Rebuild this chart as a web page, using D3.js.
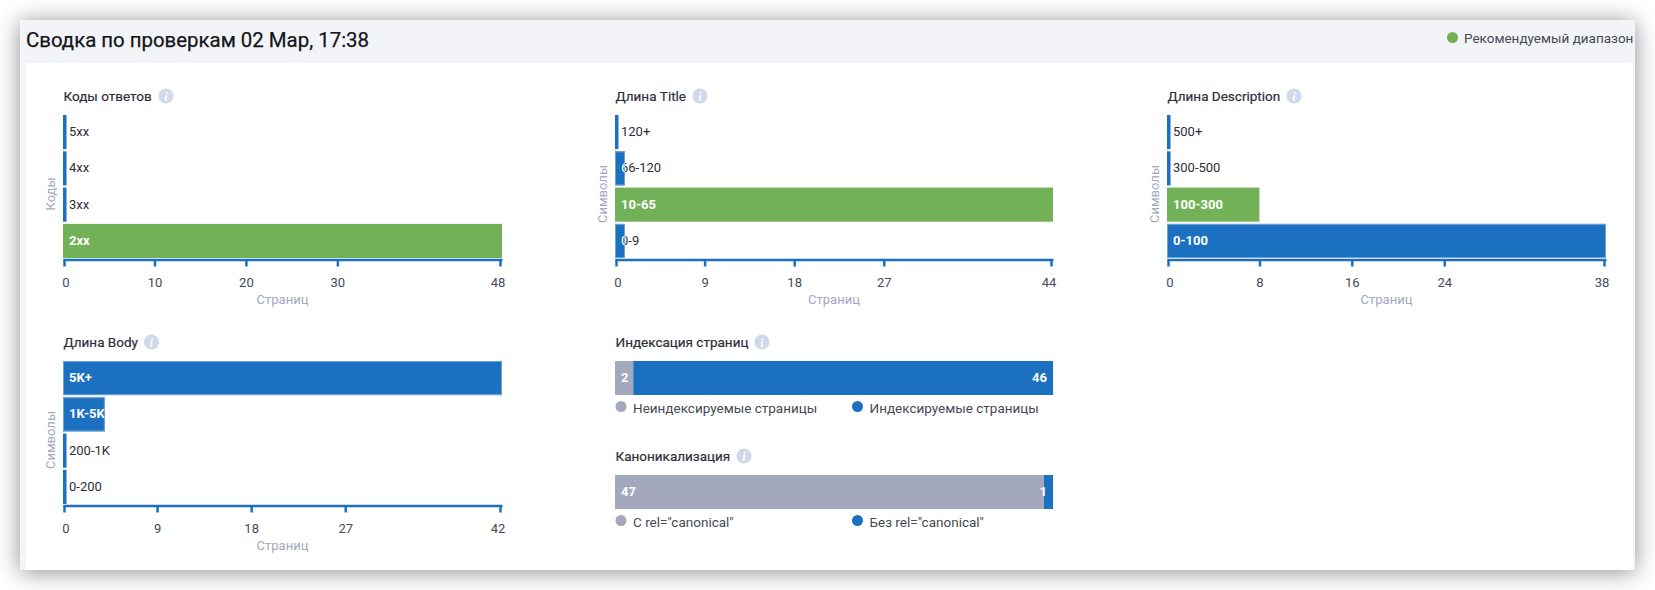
<!DOCTYPE html>
<html>
<head>
    <meta charset="utf-8">
    <script src="https://cdnjs.cloudflare.com/ajax/libs/d3/7.8.5/d3.min.js" charset="utf-8"></script>
    <style>
        html, body {
            margin: 0px;
            padding: 0px;
            background: #fff;
            overflow: hidden;
        }
        svg {
            display: block;
        }
        text {
            font-family: Roboto, sans-serif;
        }
        .panel {
            position: absolute;
            left: 20px;
            top: 20px;
            width: 1615px;
            height: 550px;
            background: #f3f4f8;
            box-shadow: 0 2px 22px rgba(0, 0, 0, .45);
        }
        .sheet {
            position: absolute;
            left: 26px;
            top: 63px;
            width: 1607px;
            height: 507px;
            background: #fff;
            border-radius: 3px 3px 0 0;
        }
        #chart {
            position: absolute;
            left: 0;
            top: 0;
        }
        .axis .domain, .axis line {
            stroke: #1b71bf;
            stroke-width: 2.5px;
        }
        .axis text {
            font-size: 13px;
            fill: #454a54;
        }
    </style>
</head>
<body>
  <div class="panel"></div>
  <div class="sheet"></div>
  <svg id="chart" width="1655" height="590"></svg>
  <script>
  var BLUE = '#1b71bf', GREEN = '#72b157', GREY = '#a3a8bd';

  var pageTitle = 'Сводка по проверкам 02 Мар, 17:38';
  var rangeLegend = 'Рекомендуемый диапазон';

  // horizontal bar charts
  var codeCats = ['5xx', '4xx', '3xx', '2xx'];
  var codeVals = [0, 0, 0, 48];
  var codeTicks = [0, 10, 20, 30, 48];

  var titleCats = ['120+', '66-120', '10-65', '0-9'];
  var titleVals = [0, 1, 44, 1];
  var titleTicks = [0, 9, 18, 27, 44];

  var descCats = ['500+', '300-500', '100-300', '0-100'];
  var descVals = [0, 0, 8, 38];
  var descTicks = [0, 8, 16, 24, 38];

  var bodyCats = ['5K+', '1K-5K', '200-1K', '0-200'];
  var bodyVals = [42, 4, 0, 0];
  var bodyTicks = [0, 9, 18, 27, 42];

  // stacked single bars
  var indexNames = ['Неиндексируемые страницы', 'Индексируемые страницы'];
  var indexVals = [2, 46];
  var canonNames = ['С rel="canonical"', 'Без rel="canonical"'];
  var canonVals = [47, 1];

  var svg = d3.select('#chart');
  var clipId = 0;

  svg.append('text').attr('x', 26).attr('y', 47)
     .style('font-size', '20.4px').style('fill', '#14161a')
     .style('stroke', '#14161a').style('stroke-width', 0.25).text(pageTitle);
  svg.append('circle').attr('cx', 1452.5).attr('cy', 37.5).attr('r', 5.5).attr('fill', GREEN);
  svg.append('text').attr('x', 1464).attr('y', 43)
     .style('font-size', '13.5px').style('fill', '#454a54').text(rangeLegend);

  function heading(x, y, label, iconX) {
    svg.append('text').attr('x', x).attr('y', y)
       .style('font-size', '13.5px').style('fill', '#2b2f38')
       .style('stroke', '#2b2f38').style('stroke-width', 0.2).text(label);
    svg.append('circle').attr('cx', iconX).attr('cy', y - 5).attr('r', 7.6).attr('fill', '#d0d9ea');
    svg.append('text').attr('x', iconX).attr('y', y - 0.5).attr('text-anchor', 'middle')
       .style('font-family', 'Liberation Serif').style('font-style', 'italic').style('font-weight', 700)
       .style('font-size', '12px').style('fill', '#fff').text('i');
  }

  function barChart(o) {
    var max = d3.max(o.vals);
    var x = d3.scaleLinear().domain([0, max]).range([o.x, o.x + o.w]);
    var y = d3.scaleBand().domain(o.cats).range([o.y, o.y + 143]).paddingInner(0.06);
    var g = svg.append('g');

    heading(o.x + 0.5, o.y - 14, o.title, o.iconX);

    o.cats.forEach(function(cat, i) {
      var v = o.vals[i];
      var bw = Math.max(x(v) - x(0), 3.5);   // empty rows still get a sliver
      var by = y(cat), bh = y.bandwidth();
      var fill = cat === o.good ? GREEN : BLUE;
      g.append('rect').attr('x', x(0)).attr('y', by).attr('width', bw).attr('height', bh)
       .attr('fill', fill);
      if (fill === BLUE && v > 0) {
        g.append('rect').attr('x', x(0) + 0.5).attr('y', by + 0.5).attr('width', bw - 1).attr('height', bh - 1)
         .attr('fill', 'none').attr('stroke', '#6fa3d8');
      }

      // label colour flips at the bar edge
      var id = 'c' + (clipId++);
      var clip = svg.append('clipPath').attr('id', id);
      clip.append('rect').attr('x', x(0)).attr('y', by).attr('width', bw).attr('height', bh);
      var id2 = 'c' + (clipId++);
      var clip2 = svg.append('clipPath').attr('id', id2);
      clip2.append('rect').attr('x', x(0) + bw).attr('y', by).attr('width', o.w).attr('height', bh);

      var fits = bw > 30;
      g.append('text').attr('x', x(0) + 6).attr('y', by + bh / 2 + 4)
       .attr('clip-path', 'url(#' + id2 + ')')
       .style('font-size', '13px').style('fill', '#2b2f38').text(cat);
      g.append('text').attr('x', x(0) + 6).attr('y', by + bh / 2 + 4)
       .attr('clip-path', 'url(#' + id + ')')
       .style('font-size', '13px').style('font-weight', fits ? 700 : 400).style('fill', '#fff').text(cat);
    });

    var axis = svg.append('g').attr('class', 'axis')
      .attr('transform', 'translate(0,' + (o.y + 144.5) + ')')
      .call(d3.axisBottom(x).tickValues(o.ticks).tickSize(7).tickSizeOuter(0).tickPadding(11));
    axis.selectAll('.tick').each(function(d, i) {
      var t = d3.select(this);
      // end ticks are pulled inside the axis
      if (i === 0) {
        t.attr('transform', 'translate(' + (x(d) + 1.5) + ',0)');
        t.select('text').attr('dx', 1.5);
      }
      if (i === o.ticks.length - 1) {
        t.attr('transform', 'translate(' + (x(d) - 1.5) + ',0)');
        t.select('text').attr('dx', -2.5);
      }
    });

    svg.append('text').attr('x', o.x + o.w / 2).attr('y', o.y + 189).attr('text-anchor', 'middle')
       .style('font-size', '13px').style('fill', '#a3a9c1').text('Страниц');
    svg.append('text').attr('text-anchor', 'middle')
       .attr('transform', 'translate(' + (o.x - 8) + ',' + (o.y + 79) + ') rotate(-90)')
       .style('font-size', '13px').style('fill', '#a3a9c1').text(o.yLabel);
  }

  function stackBar(o) {
    var x = d3.scaleLinear().domain([0, d3.sum(o.vals)]).range([o.x, o.x + o.w]);
    var colors = [GREY, BLUE];
    var bh = 34;
    heading(o.x + 0.5, o.y - 14, o.title, o.iconX);

    svg.append('rect').attr('x', x(0)).attr('y', o.y).attr('width', x(o.vals[0]) - x(0)).attr('height', bh).attr('fill', colors[0]);
    svg.append('rect').attr('x', x(o.vals[0])).attr('y', o.y).attr('width', x(d3.sum(o.vals)) - x(o.vals[0])).attr('height', bh).attr('fill', colors[1]);

    svg.append('text').attr('x', x(0) + 6).attr('y', o.y + 21)
       .style('font-size', '13px').style('font-weight', 700).style('fill', '#fff').text(o.vals[0]);
    svg.append('text').attr('x', x(o.vals[0] + o.vals[1]) - 6).attr('y', o.y + 21).attr('text-anchor', 'end')
       .style('font-size', '13px').style('font-weight', 700).style('fill', '#fff').text(o.vals[1]);

    o.names.forEach(function(name, i) {
      var lx = o.x + i * 236.5;
      svg.append('circle').attr('cx', lx + 6).attr('cy', o.y + 45.5).attr('r', 5.5).attr('fill', colors[i]);
      svg.append('text').attr('x', lx + 18).attr('y', o.y + 51.5)
         .style('font-size', '13.5px').style('fill', '#454a54').text(name);
    });
  }

  barChart({title: 'Коды ответов', yLabel: 'Коды', cats: codeCats, vals: codeVals, ticks: codeTicks, good: '2xx', x: 63, y: 115, w: 439, iconX: 166});
  barChart({title: 'Длина Title', yLabel: 'Символы', cats: titleCats, vals: titleVals, ticks: titleTicks, good: '10-65', x: 615, y: 115, w: 438, iconX: 700});
  barChart({title: 'Длина Description', yLabel: 'Символы', cats: descCats, vals: descVals, ticks: descTicks, good: '100-300', x: 1167, y: 115, w: 439, iconX: 1294});
  barChart({title: 'Длина Body', yLabel: 'Символы', cats: bodyCats, vals: bodyVals, ticks: bodyTicks, good: null, x: 63, y: 361, w: 439, iconX: 151.5});
  stackBar({title: 'Индексация страниц', names: indexNames, vals: indexVals, x: 615, y: 361, w: 438, iconX: 762});
  stackBar({title: 'Каноникализация', names: canonNames, vals: canonVals, x: 615, y: 475, w: 438, iconX: 744});
  </script>
</body>
</html>
